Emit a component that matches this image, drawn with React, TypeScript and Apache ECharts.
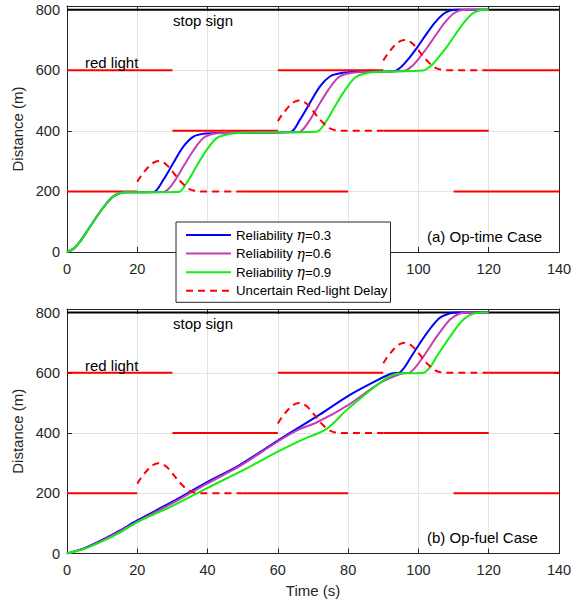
import React, { useEffect, useRef } from 'react';
import * as echarts from 'echarts';

const FONT = "'Liberation Sans', Arial, Helvetica, sans-serif";

// ---- data (time s, distance m) ----
const seriesNames = ['Reliability η=0.3', 'Reliability η=0.6', 'Reliability η=0.9'];
const delayName = 'Uncertain Red-light Delay';

// (a) Op-time case
const timeBlue = [[0,0],[2,12],[3.7,34],[5.6,67],[7.5,100],[9.4,132],[11.3,161],[13,182],[15,194],[17,197],[24.6,198],[27.4,238],[30.2,293],[33.1,348],[36,381],[38.8,390],[42.6,393],[63.5,396],[66.3,437],[69.1,492],[72,547],[74.9,580],[77.7,590],[81.5,594],[93,597],[95,610],[97,635],[99.5,673],[102,715],[104.5,755],[107,785],[109,797],[111,800],[120,800]];
const timeMagenta = [[0,0],[2,12],[3.7,34],[5.6,67],[7.5,100],[9.4,132],[11.3,161],[13,182],[15,194],[17,197],[27.4,198],[30.2,227],[33.1,282],[36,336],[38.8,376],[41.7,390],[45.5,393],[66,396],[68.6,427],[71.5,482],[74.4,536],[77.2,576],[80,589],[84,594],[96,598],[98,612],[100,637],[102.5,675],[105,717],[107.5,757],[110,787],[112,798],[114,800],[120,800]];
const timeGreen = [[0,0],[2,12],[3.7,34],[5.6,67],[7.5,100],[9.4,132],[11.3,161],[13,182],[15,194],[17,197],[31.7,198],[34,227],[36.8,282],[39.7,336],[42.6,376],[46.4,390],[50,394],[71,397],[73.5,427],[76.3,482],[79.2,536],[82,576],[85,590],[89,595],[101.4,599],[103.4,613],[105.4,638],[108,676],[110.5,718],[113,758],[115.5,788],[117.5,798],[119,800],[120,800]];

// (b) Op-fuel case
const fuelBlue = [[0,0],[5,18],[10,45],[15,76],[20,110],[30,172],[40,238],[49,293],[60,375],[72,462],[80.5,527],[89,580],[92.4,598],[94.8,602],[98.6,666],[102.4,732],[106,782],[109,798],[111,800],[120,800]];
const fuelMagenta = [[0,0],[5,17],[10,43],[15,73],[20,106],[30,167],[40,233],[49,289],[60,372],[66,412],[71,435],[80,493],[89,566],[95.2,598],[97.7,602],[101.4,654],[105.2,720],[109,777],[111.8,797],[114,800],[120,800]];
const fuelGreen = [[0,0],[5,16],[10,40],[15,69],[20,104],[30,158],[40,218],[51,282],[60,338],[67,378],[73.9,414],[79.6,477],[84,520],[89,566],[91.5,586],[93.8,597],[101.4,600],[103.4,620],[105.2,654],[109,720],[112.8,777],[116.6,799],[120,800]];

// uncertain red-light delay bumps
const delay1 = [[20,232],[21,250],[22,265],[23,279],[24,290],[25,297],[26,300],[27,298],[28,291],[29,280],[30,266],[31,251],[32,237],[33,225],[34,214],[35,207],[36,203],[38,200],[50,200]];
const delay2 = [[60,432],[61,450],[62,465],[63,479],[64,490],[65,497],[66,500],[67,498],[68,491],[69,480],[70,466],[71,451],[72,437],[73,425],[74,414],[75,407],[76,403],[78,400],[90,400]];
const delay3 = [[90,632],[91,650],[92,665],[93,679],[94,690],[95,697],[96,700],[97,698],[98,691],[99,680],[100,666],[101,651],[102,637],[103,625],[104,614],[105,607],[106,603],[108,600],[120,600]];

// red light segments: [distance, start time, end time]
const redLights = [[200,0,20],[200,50,80],[200,110,140],[400,30,60],[400,90,120],[600,0,30],[600,60,90],[600,120,140]];
const stopSign = [[0,800],[140,800]];

const xTicks = [0, 20, 40, 60, 80, 100, 120, 140];
const xTicksHiddenTop = [40, 60, 80]; // covered by the legend in panel (a)
const yTicks = [0, 200, 400, 600, 800];

const COLORS = ['#0000ff', '#c83cb4', '#11ee11'];
const AXIS = '#262626';

function buildOption() {
  const grids = [
    { left: 67, top: 6, width: 492, height: 246 },
    { left: 67, top: 309, width: 492, height: 244.5 },
  ];
  const xAxis: any[] = [];
  const yAxis: any[] = [];
  grids.forEach((g, i) => {
    xAxis.push({
      gridIndex: i, type: 'value', min: xTicks[0], max: xTicks[xTicks.length - 1], interval: 20,
      axisLine: { show: true, onZero: false, lineStyle: { color: AXIS, width: 1 } },
      axisTick: { show: true, inside: true, length: 5, lineStyle: { color: AXIS } },
      axisLabel: {
        color: AXIS, fontSize: 14.5, fontFamily: FONT, margin: 9,
        formatter: (v: number) => (i === 0 && xTicksHiddenTop.indexOf(v) >= 0 ? '' : String(v)),
      },
      splitLine: { show: true, lineStyle: { color: '#e3e3e3', width: 1 } },
      name: i === 1 ? 'Time (s)' : '', nameLocation: 'middle', nameGap: 29,
      nameTextStyle: { color: AXIS, fontSize: 15, fontFamily: FONT },
    });
    xAxis.push({
      gridIndex: i, type: 'value', position: 'top', min: 0, max: 140, interval: 20,
      axisLine: { show: true, onZero: false, lineStyle: { color: AXIS, width: 1 } },
      axisTick: { show: true, inside: true, length: 5, lineStyle: { color: AXIS } },
      axisLabel: { show: false }, splitLine: { show: false },
    });
    yAxis.push({
      gridIndex: i, type: 'value', min: 0, max: 812, interval: 200,
      axisLine: { show: true, onZero: false, lineStyle: { color: AXIS, width: 1 } },
      axisTick: { show: true, inside: true, length: 5, lineStyle: { color: AXIS } },
      axisLabel: {
        color: AXIS, fontSize: 14.5, fontFamily: FONT, margin: 7,
        formatter: (v: number) => (yTicks.indexOf(v) >= 0 ? String(v) : ''),
      },
      splitLine: { show: true, lineStyle: { color: '#e3e3e3', width: 1 } },
      name: 'Distance (m)', nameLocation: 'middle', nameGap: 36,
      nameTextStyle: { color: AXIS, fontSize: 15, fontFamily: FONT },
    });
    yAxis.push({
      gridIndex: i, type: 'value', position: 'right', min: 0, max: 812, interval: 200,
      axisLine: { show: true, onZero: false, lineStyle: { color: AXIS, width: 1 } },
      axisTick: { show: true, inside: true, length: 5, lineStyle: { color: AXIS } },
      axisLabel: { show: false }, splitLine: { show: false },
    });
  });

  const series: any[] = [];
  const trajSets = [
    [timeBlue, timeMagenta, timeGreen],
    [fuelBlue, fuelMagenta, fuelGreen],
  ];
  const delays = [delay1, delay2, delay3];
  [0, 1].forEach((gi) => {
    const xi = gi * 2;
    const yi = gi * 2;
    redLights.forEach(([d, t0, t1]) => {
      series.push({
        type: 'line', name: 'red light', xAxisIndex: xi, yAxisIndex: yi,
        data: [[t0, d], [t1, d]], symbol: 'none', silent: true,
        lineStyle: { color: '#ff0000', width: 2 }, z: 2,
      });
    });
    series.push({
      type: 'line', name: 'stop sign', xAxisIndex: xi, yAxisIndex: yi,
      data: stopSign, symbol: 'none', silent: true,
      lineStyle: { color: '#000000', width: 2 }, z: 2,
    });
    trajSets[gi].forEach((data, k) => {
      series.push({
        type: 'line', name: seriesNames[k], xAxisIndex: xi, yAxisIndex: yi,
        data, symbol: 'none', smooth: 0.3,
        color: COLORS[k],
        lineStyle: { color: COLORS[k], width: 2 }, z: 3,
      });
    });
    delays.forEach((data) => {
      series.push({
        type: 'line', name: delayName, xAxisIndex: xi, yAxisIndex: yi,
        data, symbol: 'none', smooth: 0.3,
        color: '#ff0000',
        lineStyle: { color: '#ff0000', width: 2, type: [7, 5] }, z: 4,
      });
    });
  });

  const textFont = `15px ${FONT}`;
  const graphic = [
    { type: 'text', x: 203, y: 20, z: 10, style: { text: 'stop sign', font: textFont, fill: '#000', align: 'center', verticalAlign: 'middle' } },
    { type: 'text', x: 85, y: 62, z: 10, style: { text: 'red light', font: textFont, fill: '#000', align: 'left', verticalAlign: 'middle' } },
    { type: 'text', x: 427, y: 236, z: 10, style: { text: '(a) Op-time Case', font: textFont, fill: '#000', align: 'left', verticalAlign: 'middle' } },
    { type: 'text', x: 203, y: 323, z: 10, style: { text: 'stop sign', font: textFont, fill: '#000', align: 'center', verticalAlign: 'middle' } },
    { type: 'text', x: 85, y: 365, z: 10, style: { text: 'red light', font: textFont, fill: '#000', align: 'left', verticalAlign: 'middle' } },
    { type: 'text', x: 427, y: 537, z: 10, style: { text: '(b) Op-fuel Case', font: textFont, fill: '#000', align: 'left', verticalAlign: 'middle' } },
  ];

  return {
    animation: false,
    backgroundColor: '#ffffff',
    grid: grids.map((g) => ({ ...g, show: false, containLabel: false, outerBoundsMode: 'none' })),
    xAxis,
    yAxis,
    legend: {
      data: [...seriesNames, delayName],
      left: 176, top: 222, orient: 'vertical',
      backgroundColor: '#ffffff', borderColor: AXIS, borderWidth: 1,
      padding: [6, 3, 4.5, 9],
      itemWidth: 45, itemHeight: 14, itemGap: 4.6,
      selectedMode: false, z: 20,
      itemStyle: { color: 'rgba(0,0,0,0)', borderColor: 'rgba(0,0,0,0)', borderWidth: 0, opacity: 0 },
      textStyle: {
        fontSize: 13.3, fontFamily: FONT, color: '#000', lineHeight: 14,
        rich: {
          a: { fontSize: 13.3, fontFamily: FONT, color: '#000', lineHeight: 14 },
          e: { fontSize: 14, fontFamily: "'DejaVu Serif', 'Liberation Serif', serif", fontStyle: 'italic', color: '#000', lineHeight: 14 },
        },
      },
      formatter: (name: string) => {
        const idx = name.indexOf('η');
        if (idx < 0) return `{a|${name}}`;
        return `{a|${name.slice(0, idx)}}{e|η}{a|${name.slice(idx + 1)}}`;
      },
    },
    graphic,
    series,
  };
}

export default function App() {
  const ref = useRef<HTMLDivElement>(null);
  useEffect(() => {
    if (!ref.current) return;
    const chart = echarts.init(ref.current, undefined, { renderer: 'svg' });
    chart.setOption(buildOption() as any);
    return () => chart.dispose();
  }, []);
  return (
    <div
      ref={ref}
      style={{ position: 'absolute', left: 0, top: 0, width: 576, height: 600, overflow: 'hidden', background: '#fff' }}
    />
  );
}
